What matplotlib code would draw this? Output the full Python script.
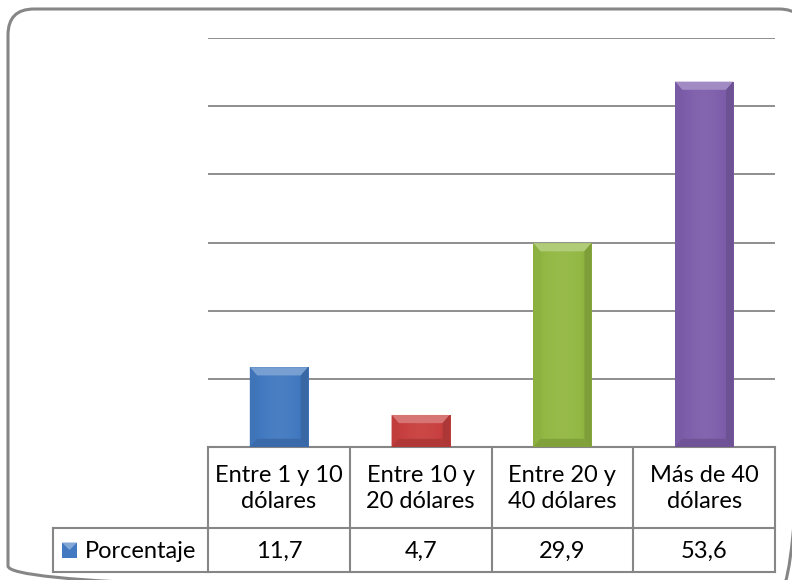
import matplotlib
matplotlib.use("Agg")
import matplotlib.pyplot as plt
import numpy as np
from matplotlib.patches import FancyBboxPatch, Rectangle, Polygon
from matplotlib.lines import Line2D
import matplotlib.colors as mcolors
import matplotlib.transforms as mtransforms

categories = ["Entre 1 y 10\ndólares", "Entre 10 y\n20 dólares",
              "Entre 20 y\n40 dólares", "Más de 40\ndólares"]
values = [11.7, 4.7, 29.9, 53.6]
value_labels = ["11,7", "4,7", "29,9", "53,6"]
series_name = "Porcentaje"
colors = ["#4279C0", "#C8403F", "#93B843", "#7E5EAB"]

plt.rcParams['font.family'] = ['Lato', 'DejaVu Sans']

W, H = 792, 580
fig = plt.figure(figsize=(7.92, 5.8), dpi=100)

ov = fig.add_axes([0, 0, 1, 1], zorder=0)
ov.set_xlim(0, W)
ov.set_ylim(H, 0)
ov.axis('off')

ax_l, ax_r, ax_t, ax_b = 208, 775, 38, 447
ax = fig.add_axes([ax_l / W, 1 - ax_b / H, (ax_r - ax_l) / W, (ax_b - ax_t) / H], zorder=1)
ax.patch.set_alpha(0)
ax.set_xlim(-0.5, len(values) - 0.5)
ax.set_ylim(0, 60)
ax.set_yticks(np.arange(10, 61, 10))
ax.grid(axis='y', color='#868686', lw=1.3)
ax.set_axisbelow(True)
for s in ax.spines.values():
    s.set_visible(False)
ax.tick_params(left=False, bottom=False, labelleft=False, labelbottom=False)

bw = 0.41
x = np.arange(len(values))
bars = ax.bar(x, values, width=bw, color=colors, zorder=2, edgecolor='none')

def shade(c, f):
    r, g, b = mcolors.to_rgb(c)
    if f >= 0:
        return (r + (1 - r) * f, g + (1 - g) * f, b + (1 - b) * f)
    return (r * (1 + f), g * (1 + f), b * (1 + f))

bev_x = 0.05
bev_y = 1.2
for xi, v, c, b in zip(x, values, colors, bars):
    x0, x1 = xi - bw / 2, xi + bw / 2
    t = np.linspace(0, 1, 64)
    prof = 0.10 * np.sin(np.pi * t) - 0.06
    img = np.array([[shade(c, p) for p in prof]])
    im = ax.imshow(img, extent=[x0, x1, 0, v], aspect='auto', zorder=2.1,
                   interpolation='bilinear')
    im.set_clip_path(b)
    ax.add_patch(Polygon([[x0, v], [x1, v], [x1 - bev_x, v - bev_y], [x0 + bev_x, v - bev_y]],
                         closed=True, color=shade(c, 0.28), zorder=2.2, lw=0))
    ax.add_patch(Polygon([[x0, 0], [x1, 0], [x1 - bev_x, bev_y], [x0 + bev_x, bev_y]],
                         closed=True, color=shade(c, -0.12), zorder=2.2, lw=0))
    ax.add_patch(Polygon([[x0, 0], [x0 + bev_x, bev_y], [x0 + bev_x, v - bev_y], [x0, v]],
                         closed=True, color=shade(c, -0.04), zorder=2.2, lw=0))
    ax.add_patch(Polygon([[x1, 0], [x1 - bev_x, bev_y], [x1 - bev_x, v - bev_y], [x1, v]],
                         closed=True, color=shade(c, -0.14), zorder=2.2, lw=0))

ov.add_patch(FancyBboxPatch((8, 9), 797, 583, boxstyle="round,pad=0,rounding_size=26",
                            fill=False, ec='#868686', lw=2.2, clip_on=False))

tc = '#868686'
tlw = 1.5
bt = mtransforms.blended_transform_factory(ax.transData, ov.transData)
r0, r1, r2 = 447, 528, 572
leg_l = 53
xb = [i - 0.5 for i in range(len(values) + 1)]
xmin, xmax = xb[0], xb[-1]
ov.add_line(Line2D([xmin, xmax], [r0, r0], transform=bt, color=tc, lw=tlw))
for yy in (r1, r2):
    ov.add_line(Line2D([leg_l, ax_l], [yy, yy], color=tc, lw=tlw))
    ov.add_line(Line2D([xmin, xmax], [yy, yy], transform=bt, color=tc, lw=tlw))
for xx in xb:
    ov.add_line(Line2D([xx, xx], [r0, r2], transform=bt, color=tc, lw=tlw))
ov.add_line(Line2D([leg_l, leg_l], [r1, r2], color=tc, lw=tlw))

fs = 17
for xi, cat, lab in zip(x, categories, value_labels):
    ov.text(xi, (r0 + r1) / 2 + 1, cat, transform=bt, ha='center', va='center',
            fontsize=fs, color='#000000', linespacing=1.35)
    ov.text(xi, (r1 + r2) / 2 + 1, lab, transform=bt, ha='center', va='center',
            fontsize=fs, color='#000000')

ky = (r1 + r2) / 2
ov.add_patch(Rectangle((62, ky - 7.5), 15, 15, color=colors[0], lw=0))
ov.add_patch(Polygon([[62, ky - 7.5], [77, ky - 7.5], [69.5, ky]], closed=True,
                     color=shade(colors[0], 0.35), lw=0))
ov.text(85, ky + 1, series_name, ha='left', va='center', fontsize=fs, color='#000000')

fig.savefig("out.png", dpi=100)
